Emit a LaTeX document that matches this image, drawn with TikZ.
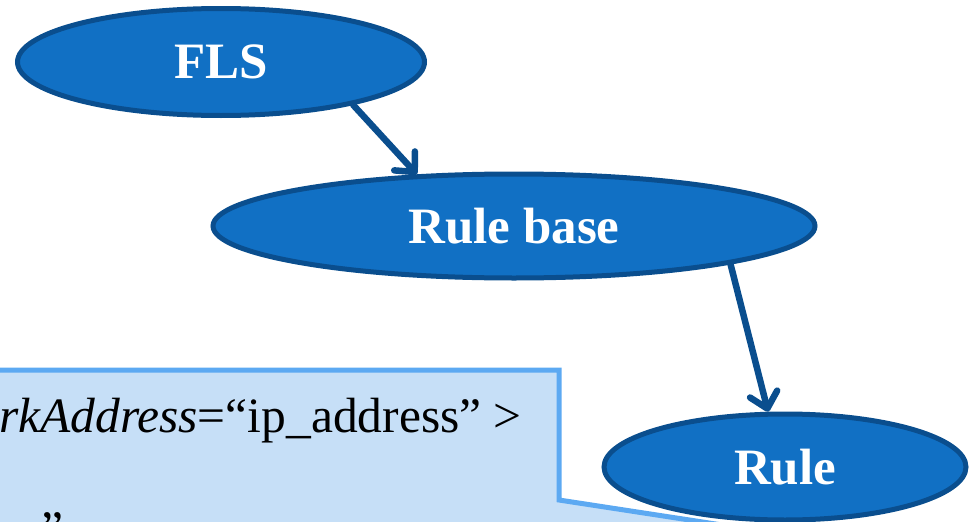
\documentclass[tikz,border=0pt]{standalone}
\usepackage{fontspec}
\setmainfont{Liberation Serif}
\usetikzlibrary{arrows.meta,shapes.geometric}
\definecolor{ovalfill}{HTML}{1170C4}
\definecolor{ovaledge}{HTML}{0A4E8E}
\definecolor{notefill}{HTML}{C6DFF7}
\definecolor{noteedge}{HTML}{5CA9F2}

\begin{document}
\begin{tikzpicture}[x=1pt,y=-1pt,>={Straight Barb[round,length=15pt,width=28pt]},
  oval/.style={ellipse,draw=ovaledge,fill=ovalfill,line width=5pt,inner sep=0pt,text=white,
    font=\fontsize{51}{60}\selectfont\bfseries},
  notetext/.style={inner sep=0pt,font=\fontsize{49.5}{60}\selectfont},
  link/.style={->,line width=6.5pt,draw=ovaledge,line cap=round}]
  \useasboundingbox (0,0) rectangle (970,522);
  \clip (0,0) rectangle (970,522);
  % callout box, cut by the frame
  \draw[noteedge,fill=notefill,line width=5pt] (-10,370) -- (559,370) -- (559,500) -- (820,540) -- (-10,540) -- cycle;
  \node[notetext,anchor=base east] (attr) at (522,432) {\textit{rkAddress}=“ip\_address” >};
  \node[notetext,anchor=base] (quote) at (52,545) {”};
  % ovals
  \node[oval,minimum width=407pt,minimum height=107pt] (fls) at (221,62) {FLS};
  \node[oval,minimum width=602pt,minimum height=104pt] (rbase) at (514,226) {Rule base};
  \node[oval,minimum width=362pt,minimum height=106pt] (rule) at (785,467) {Rule};
  \draw[link] (fls.-18) -- (rbase.152);
  \draw[link] (rbase.-10) -- (rule.107);
\end{tikzpicture}
\end{document}
